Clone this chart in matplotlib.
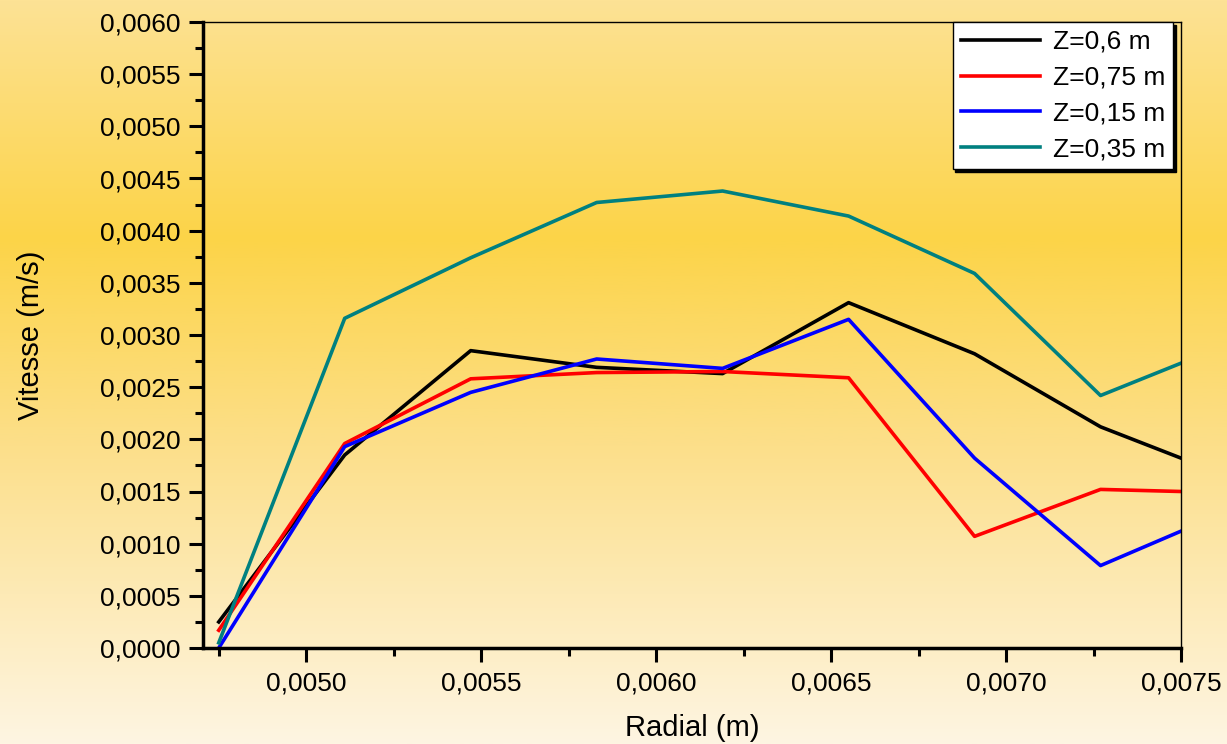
import matplotlib
matplotlib.use('Agg')
import matplotlib.pyplot as plt
import numpy as np
from matplotlib.colors import LinearSegmentedColormap
from matplotlib.ticker import MultipleLocator, FuncFormatter

# valeurs
radial = [0.00475, 0.00511, 0.00547, 0.00583, 0.00619, 0.00655, 0.00691, 0.00727, 0.0075]
v_z06 = [0.00025, 0.00185, 0.00285, 0.00269, 0.00263, 0.00331, 0.00282, 0.00212, 0.00182]
v_z075 = [0.00017, 0.00196, 0.00258, 0.00264, 0.00265, 0.00259, 0.00107, 0.00152, 0.00150]
v_z015 = [0.00000, 0.00193, 0.00245, 0.00277, 0.00268, 0.00315, 0.00182, 0.00079, 0.00112]
v_z035 = [0.00005, 0.00316, 0.00374, 0.00427, 0.00438, 0.00414, 0.00359, 0.00242, 0.00273]

series = [
    ('Z=0,6 m', v_z06, 'black'),
    ('Z=0,75 m', v_z075, '#ff0000'),
    ('Z=0,15 m', v_z015, '#0000ff'),
    ('Z=0,35 m', v_z035, '#008080'),
]

plt.rcParams['font.family'] = ['Liberation Sans', 'DejaVu Sans']

fig = plt.figure(figsize=(12.27, 7.44), dpi=100)

# fond en degrade vertical
bg = fig.add_axes([0, 0, 1, 1], zorder=-10)
cmap = LinearSegmentedColormap.from_list(
    'fond', [(0.0, '#fde295'), (0.32, '#fcd448'), (0.6, '#fcdf8a'), (1.0, '#fef5e2')])
grad = np.linspace(0, 1, 256).reshape(-1, 1)
bg.imshow(grad, aspect='auto', cmap=cmap, extent=[0, 1, 0, 1], origin='upper')
bg.axis('off')

ax = fig.add_axes([203 / 1227, 96 / 744, 978 / 1227, 626 / 744])
ax.set_facecolor('none')

for label, vals, color in series:
    ax.plot(radial, vals, color=color, lw=2.6, label=label)

ax.set_xlim(0.004705, 0.0075)
ax.set_ylim(0, 0.006)

fmt = FuncFormatter(lambda v, p: f'{v:.4f}'.replace('.', ','))
ax.xaxis.set_major_locator(MultipleLocator(0.0005))
ax.xaxis.set_minor_locator(MultipleLocator(0.00025))
ax.yaxis.set_major_locator(MultipleLocator(0.0005))
ax.yaxis.set_minor_locator(MultipleLocator(0.00025))
ax.xaxis.set_major_formatter(fmt)
ax.yaxis.set_major_formatter(fmt)

ax.tick_params(which='major', direction='out', length=10, width=2.2, labelsize=19)
ax.tick_params(which='minor', direction='out', length=6, width=2.2)
ax.tick_params(top=False, right=False, which='both')
ax.tick_params(axis='x', which='major', pad=7)
ax.tick_params(axis='y', which='major', pad=6)

ax.spines['left'].set_linewidth(2.5)
ax.spines['bottom'].set_linewidth(2.5)
ax.spines['top'].set_linewidth(1)
ax.spines['right'].set_linewidth(1)

ax.set_xlabel('Radial (m)', fontsize=21, labelpad=13)
ax.set_ylabel('Vitesse (m/s)', fontsize=21, labelpad=40)

leg = ax.legend(loc='upper right', bbox_to_anchor=(0.992, 1.0), borderaxespad=0,
                fontsize=19, handlelength=3.0, handletextpad=0.5, labelspacing=0.45,
                borderpad=0.3, fancybox=False, framealpha=1, edgecolor='black',
                shadow={'color': 'black', 'alpha': 1})
leg.get_frame().set_linewidth(1)
for line in leg.get_lines():
    line.set_linewidth(2.6)

plt.savefig('out.png', dpi=100)
plt.close()
